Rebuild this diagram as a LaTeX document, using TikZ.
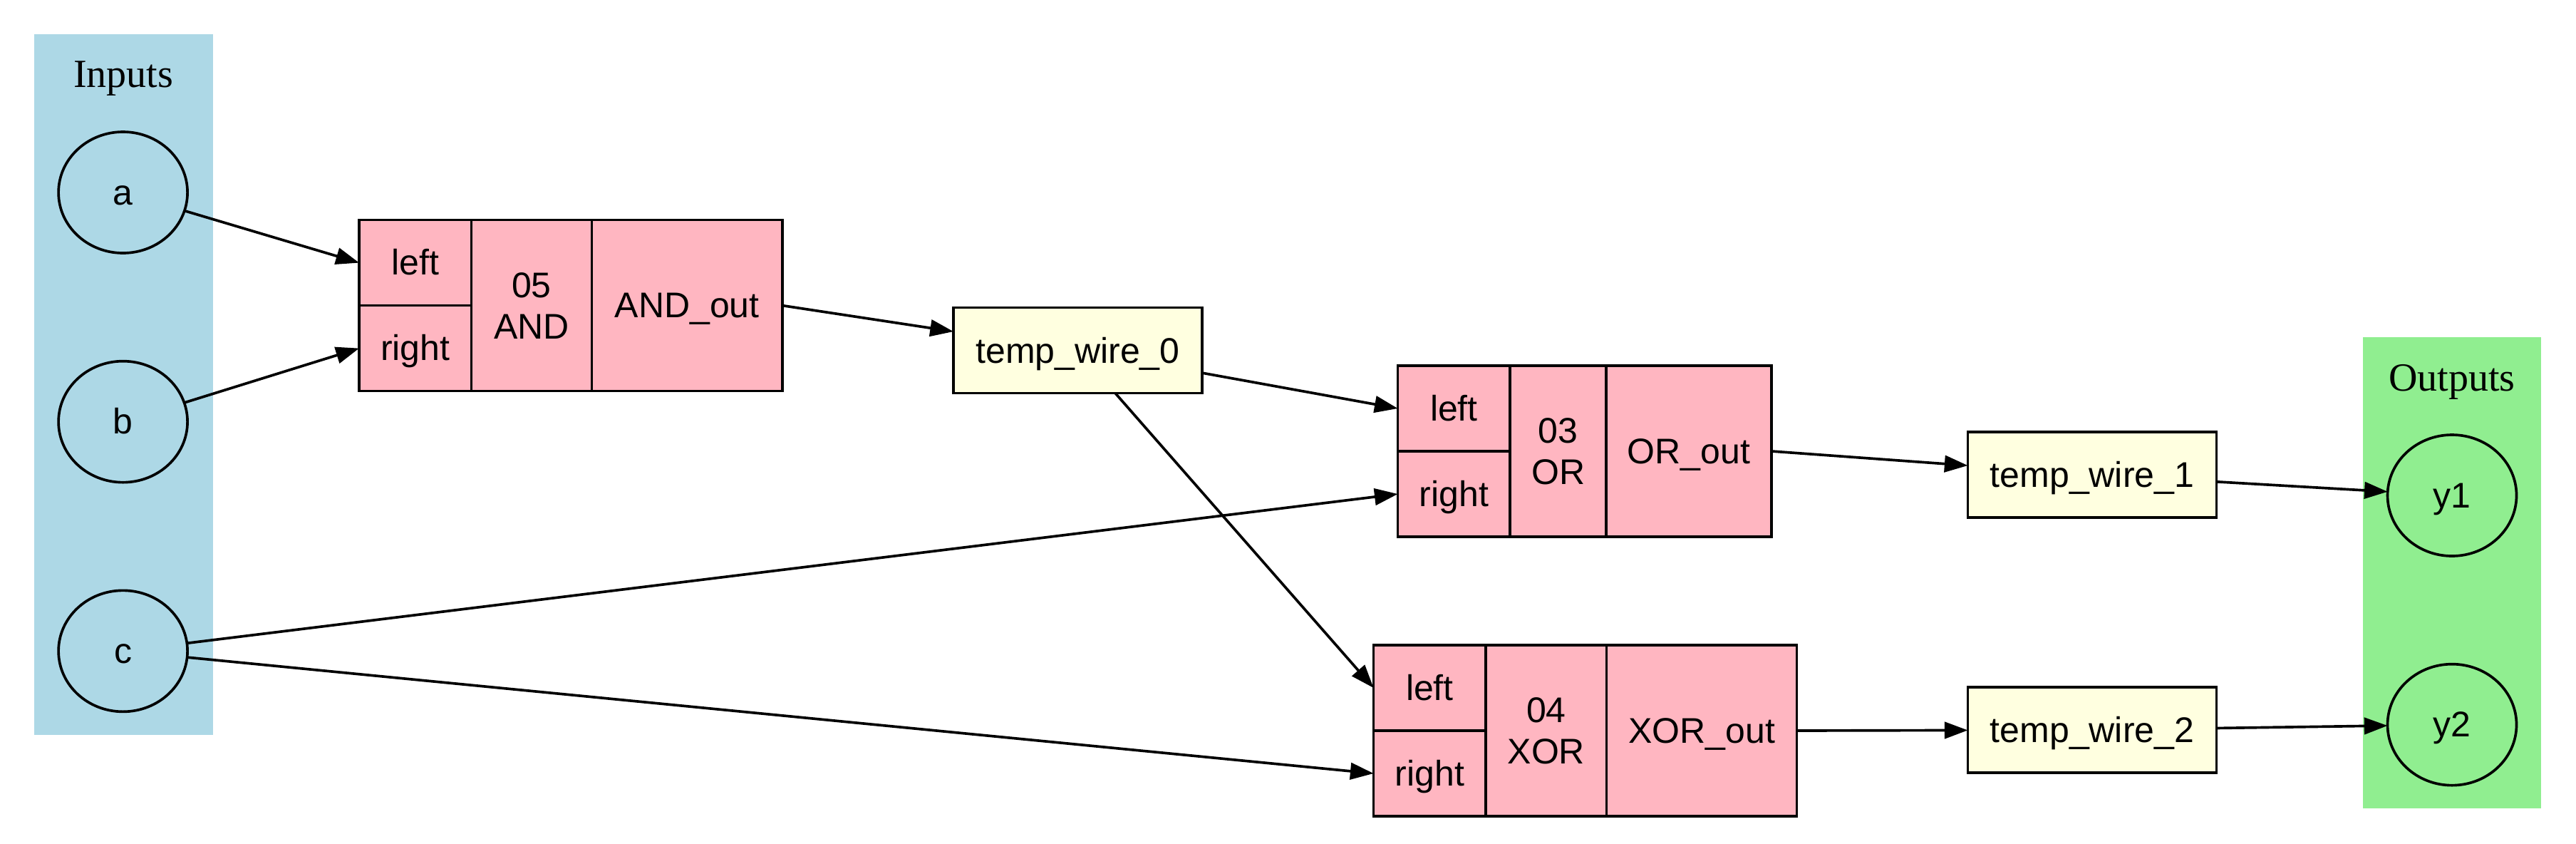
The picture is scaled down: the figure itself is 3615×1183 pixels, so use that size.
\documentclass[tikz,border=0pt]{standalone}
\usepackage{fontspec}
\setmainfont{Liberation Sans}
\newfontfamily\clusterfont{Liberation Serif}
\usepackage{tikz}
\usepackage{xcolor}
\usetikzlibrary{arrows.meta, positioning, shapes}

\definecolor{inblue}{HTML}{ADD8E6}
\definecolor{outgreen}{HTML}{90EE90}
\definecolor{gatepink}{HTML}{FFB6C1}
\definecolor{wireyellow}{HTML}{FFFFE0}

\begin{document}
\begin{tikzpicture}[
    x=0.3pt, y=-0.3pt,
    node distance=45.5pt,
    font=\fontsize{15}{17.4}\selectfont,
    ionode/.style={
        ellipse,
        draw,
        line width=1.1pt,
        minimum width=54.3pt,
        minimum height=51pt,
        inner sep=0pt,
        outer sep=0pt,
        text height=10.7pt,
        text depth=0.5pt
    },
    portcell/.style={
        rectangle,
        draw,
        line width=1.1pt,
        fill=gatepink,
        minimum width=47.25pt,
        minimum height=36pt,
        inner sep=0pt,
        outer sep=0pt,
        text height=10.7pt,
        text depth=0.5pt
    },
    opcell/.style={
        rectangle,
        draw,
        line width=1.1pt,
        fill=gatepink,
        minimum height=72pt,
        align=center,
        inner sep=0pt,
        outer sep=0pt,
        anchor=north west
    },
    outcell/.style={
        opcell,
        text height=10.7pt,
        text depth=0.5pt
    },
    wirebox/.style={
        rectangle,
        draw,
        line width=1.1pt,
        fill=wireyellow,
        minimum width=104.7pt,
        minimum height=36pt,
        inner sep=0pt,
        outer sep=0pt,
        text height=11.2pt,
        text depth=0.5pt
    },
    cluster/.style={
        font=\clusterfont\fontsize{16.8}{20}\selectfont
    },
    myarrow/.style={
        -{Triangle[length=9.8pt, width=7pt]},
        line width=1.1pt
    }
]
\useasboundingbox (0,0) rectangle (3615,1183);

\fill [inblue] (47.5,47.5) rectangle (298.8,1030.6);
\fill [outgreen] (3316,473) rectangle (3566,1134);
\node (inlabel) [cluster] at (173,110.5) {Inputs};
\node (outlabel) [cluster] at (3441,536) {Outputs};

\node (a) [ionode, fill=inblue] at (172.6,270) {a};
\node (b) [ionode, fill=inblue, below=of a] {b};
\node (c) [ionode, fill=inblue, below=of b] {c};

\node (andleft) [portcell, anchor=north west] at (504,308.6) {left};
\node (andright) [portcell, below=0pt of andleft] {right};
\node (andop) [opcell, minimum width=50.7pt] at (andleft.north east) {05\\AND};
\node (andout) [outcell, minimum width=80.2pt] at (andop.north east) {AND\_out};

\node (tw0) [wirebox] at (1512.5,491.5) {temp\_wire\_0};

\node (orleft) [portcell, anchor=north west] at (1961.6,513) {left};
\node (orright) [portcell, below=0pt of orleft] {right};
\node (orop) [opcell, minimum width=40.5pt] at (orleft.north east) {03\\OR};
\node (orout) [outcell, minimum width=69.6pt] at (orop.north east) {OR\_out};

\node (xorleft) [portcell, anchor=north west] at (1927.6,905) {left};
\node (xorright) [portcell, below=0pt of xorleft] {right};
\node (xorop) [opcell, minimum width=50.85pt] at (xorleft.north east) {04\\XOR};
\node (xorout) [outcell, minimum width=80.1pt] at (xorop.north east) {XOR\_out};

\node (tw1) [wirebox] at (2936,665.7) {temp\_wire\_1};
\node (tw2) [wirebox] at (2936,1024) {temp\_wire\_2};

\node (y1) [ionode, fill=outgreen] at (3441,695) {y1};
\node (y2) [ionode, fill=outgreen, below=of y1] {y2};

\draw [myarrow] (a) -- (andleft.west);
\draw [myarrow] (b) -- (andright.west);
\draw [myarrow] (andout.east) -- (tw0);
\draw [myarrow] (tw0) -- (orleft.west);
\draw [myarrow] (tw0) -- (xorleft.west);
\draw [myarrow] (c) -- (orright.west);
\draw [myarrow] (c) -- (xorright.west);
\draw [myarrow] (orout.east) -- (tw1);
\draw [myarrow] (xorout.east) -- (tw2);
\draw [myarrow] (tw1) -- (y1);
\draw [myarrow] (tw2) -- (y2);
\end{tikzpicture}
\end{document}
